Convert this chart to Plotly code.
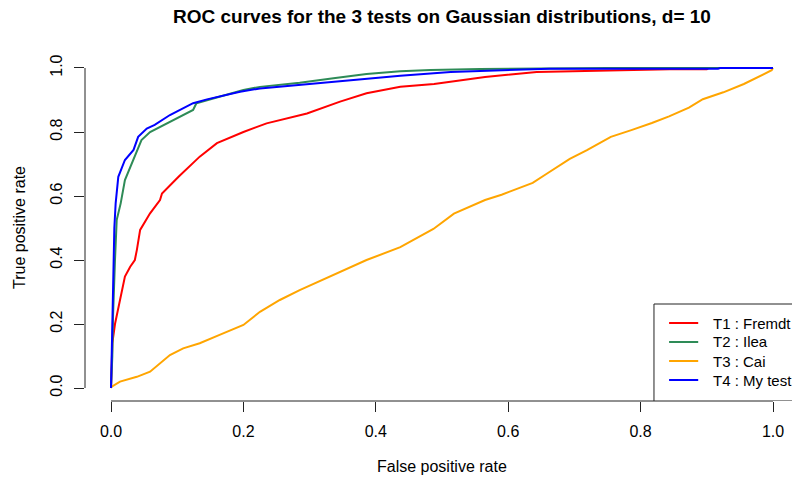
import plotly.graph_objects as go

# ROC curves: false positive rate / true positive rate for each test
fpr_t1 = [0, 0.001, 0.002, 0.006, 0.0136, 0.021, 0.029, 0.036, 0.039, 0.044, 0.059, 0.074, 0.077,
          0.102, 0.134, 0.16, 0.2, 0.235, 0.296, 0.346, 0.386, 0.437, 0.488, 0.565, 0.643, 0.746,
          0.844, 0.9, 0.903, 1.0]
tpr_t1 = [0, 0.046, 0.14, 0.2, 0.275, 0.348, 0.379, 0.40, 0.431, 0.494, 0.546, 0.5875, 0.608,
          0.66, 0.723, 0.765, 0.80, 0.827, 0.858, 0.895, 0.921, 0.9415, 0.95, 0.972, 0.9875, 0.993,
          0.996, 0.996, 1.0, 1.0]

fpr_t2 = [0, 0.002, 0.003, 0.0045, 0.006, 0.0086, 0.0146, 0.021, 0.036, 0.046, 0.059, 0.079, 0.104,
          0.124, 0.129, 0.165, 0.2, 0.225, 0.285, 0.336, 0.386, 0.437, 0.483, 0.557, 0.75, 1.0]
tpr_t2 = [0, 0.10, 0.22, 0.35, 0.40, 0.525, 0.577, 0.65, 0.728, 0.775, 0.80, 0.822, 0.848,
          0.869, 0.89, 0.91, 0.931, 0.941, 0.954, 0.968, 0.981, 0.99, 0.994, 0.997, 1.0, 1.0]

fpr_t3 = [0, 0.001, 0.0136, 0.039, 0.059, 0.089, 0.109, 0.134, 0.164, 0.2, 0.225, 0.255, 0.285,
          0.386, 0.437, 0.487, 0.518, 0.565, 0.59, 0.637, 0.657, 0.693, 0.719, 0.755, 0.786, 0.817,
          0.843, 0.873, 0.894, 0.925, 0.956, 0.982, 0.998, 1.0]
tpr_t3 = [0, 0.004, 0.02, 0.035, 0.051, 0.103, 0.124, 0.14, 0.166, 0.197, 0.238, 0.275, 0.306,
          0.40, 0.44, 0.497, 0.545, 0.5875, 0.604, 0.641, 0.668, 0.716, 0.743, 0.785, 0.806, 0.828,
          0.849, 0.876, 0.9025, 0.924, 0.95, 0.977, 0.993, 1.0]

fpr_t4 = [0, 0.001, 0.002, 0.003, 0.0035, 0.005, 0.007, 0.011, 0.021, 0.034, 0.041, 0.054, 0.066,
          0.089, 0.105, 0.124, 0.145, 0.175, 0.195, 0.225, 0.285, 0.335, 0.386, 0.437, 0.513, 0.615,
          0.662, 0.917, 0.92, 1.0]
tpr_t4 = [0, 0.10, 0.24, 0.33, 0.40, 0.50, 0.577, 0.66, 0.7125, 0.744, 0.785, 0.811, 0.822,
          0.853, 0.87, 0.89, 0.902, 0.915, 0.926, 0.936, 0.947, 0.955, 0.966, 0.976, 0.9875, 0.995,
          0.998, 0.998, 1.0, 1.0]

labels = ["T1 : Fremdt", "T2 : Ilea", "T3 : Cai", "T4 : My test"]
colors = ["#FF0000", "#2E8B57", "#FFA500", "#0000FF"]
tick_vals = [0.0, 0.2, 0.4, 0.6, 0.8, 1.0]
tick_text = ["0.0", "0.2", "0.4", "0.6", "0.8", "1.0"]

FONT = "Liberation Sans, Arial, sans-serif"

fig = go.Figure()
for fx, ty, name, col in zip([fpr_t1, fpr_t2, fpr_t3, fpr_t4],
                             [tpr_t1, tpr_t2, tpr_t3, tpr_t4], labels, colors):
    fig.add_trace(go.Scatter(x=fx, y=ty, mode="lines", name=name,
                             line=dict(color=col, width=2), showlegend=False,
                             hoverinfo="skip"))

shapes = [
    # axis lines spanning only the tick range
    dict(type="line", xref="x", yref="paper", x0=0, x1=1, y0=0, y1=0,
         line=dict(color="#222222", width=1)),
    dict(type="line", xref="paper", yref="y", x0=0, x1=0, y0=0, y1=1,
         line=dict(color="#222222", width=1)),
    # legend frame
    dict(type="rect", xref="x", yref="y", x0=0.8202, x1=1.2, y0=-0.0406, y1=0.2625,
         line=dict(color="#222222", width=1), fillcolor="white", layer="above"),
]

annotations = []
legend_y = [0.2031, 0.1438, 0.0844, 0.025]
for ly, name, col in zip(legend_y, labels, colors):
    shapes.append(dict(type="line", xref="x", yref="y", x0=0.843, x1=0.887, y0=ly, y1=ly,
                       line=dict(color=col, width=2), layer="above"))
    annotations.append(dict(x=0.907, y=ly, xref="x", yref="y", text=name, showarrow=False,
                            xanchor="left", yanchor="middle",
                            font=dict(family=FONT, size=15, color="black")))

# title and axis titles
annotations += [
    dict(text="<b>ROC curves for the 3 tests on Gaussian distributions, d= 10</b>",
         x=0.5046, y=1, xref="paper", yref="paper", yshift=39, showarrow=False,
         xanchor="center", yanchor="middle",
         font=dict(family=FONT, size=19, color="black")),
    dict(text="False positive rate", x=0.5046, y=0, xref="paper", yref="paper", yshift=-65,
         showarrow=False, xanchor="center", yanchor="middle",
         font=dict(family=FONT, size=16, color="black")),
    dict(text="True positive rate", x=0, y=0.5, xref="paper", yref="paper", xshift=-66,
         showarrow=False, xanchor="center", yanchor="middle", textangle=-90,
         font=dict(family=FONT, size=16, color="black")),
]

fig.update_layout(
    width=792, height=480,
    margin=dict(l=85, r=0, t=55, b=79),
    paper_bgcolor="white", plot_bgcolor="white",
    showlegend=False,
    shapes=shapes, annotations=annotations,
    xaxis=dict(range=[-0.0393, 1.0287], tickvals=tick_vals, ticktext=tick_text,
               showgrid=False, zeroline=False, showline=False,
               ticks="outside", ticklen=10, tickcolor="#222222", tickwidth=1,
               ticklabelstandoff=6,
               tickfont=dict(family=FONT, size=16, color="black")),
    yaxis=dict(range=[-0.0406, 1.0406], tickvals=tick_vals, ticktext=tick_text,
               showgrid=False, zeroline=False, showline=False,
               ticks="outside", ticklen=10, tickcolor="#222222", tickwidth=1,
               tickangle=-90, ticklabelstandoff=6,
               tickfont=dict(family=FONT, size=16, color="black")),
)

fig.write_html("out.html")
